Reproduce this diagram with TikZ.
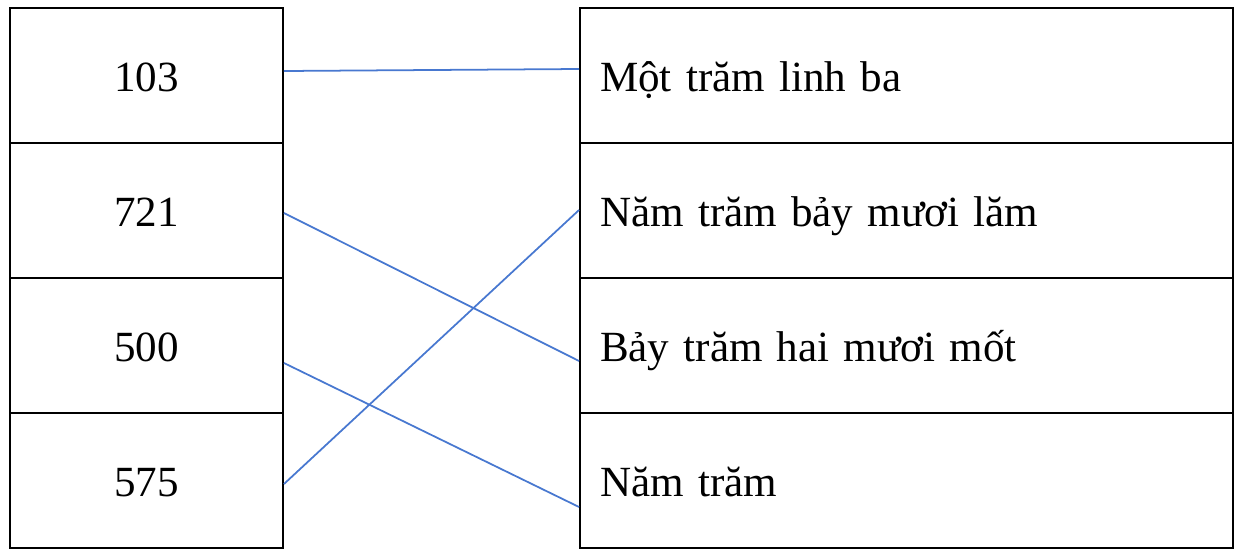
\documentclass[tikz,border=0pt]{standalone}
\usepackage{fontspec}
\setmainfont{Liberation Serif}
\usetikzlibrary{positioning}
\definecolor{linkblue}{RGB}{72,120,208}
\tikzset{
  numcell/.style={draw, line width=1.1pt, minimum width=5.46cm, minimum height=2.7cm, inner sep=0pt, text height=0.64cm, text depth=0cm, font=\fontsize{24.5}{28}\selectfont},
  wordcell/.style={draw, line width=1.1pt, minimum width=13.06cm, minimum height=2.7cm, text width=12.26cm, align=left, inner xsep=0.4cm, inner ysep=0pt, text height=0.64cm, text depth=0cm, font=\fontsize{24.5}{28}\selectfont},
  link/.style={linkblue, line width=1pt}
}
\begin{document}
\begin{tikzpicture}
			\useasboundingbox (0,0) rectangle (24.7,-10.96);

			% Numbers
			\node[numcell] (n103) at (2.93,-1.51) {103};
			\node[numcell] (n721) at (2.93,-4.21) {721};
			\node[numcell] (n500) at (2.93,-6.91) {500};
			\node[numcell] (n575) at (2.93,-9.61) {575};

			% Words
			\node[wordcell] (w103) at (18.13,-1.51) {Một trăm linh ba};
			\node[wordcell] (w575) at (18.13,-4.21) {Năm trăm bảy mươi lăm};
			\node[wordcell] (w721) at (18.13,-6.91) {Bảy trăm hai mươi mốt};
			\node[wordcell] (w500) at (18.13,-9.61) {Năm trăm};

			% Matching lines
			\draw[link] ([yshift=0.09cm]n103.east) -- ([yshift=0.13cm]w103.west);
			\draw[link] ([yshift=-0.05cm]n721.east) -- ([yshift=-0.31cm]w721.west);
			\draw[link] ([yshift=-0.35cm]n500.east) -- ([yshift=-0.53cm]w500.west);
			\draw[link] ([yshift=-0.07cm]n575.east) -- ([yshift=0.01cm]w575.west);
		\end{tikzpicture}
\end{document}
